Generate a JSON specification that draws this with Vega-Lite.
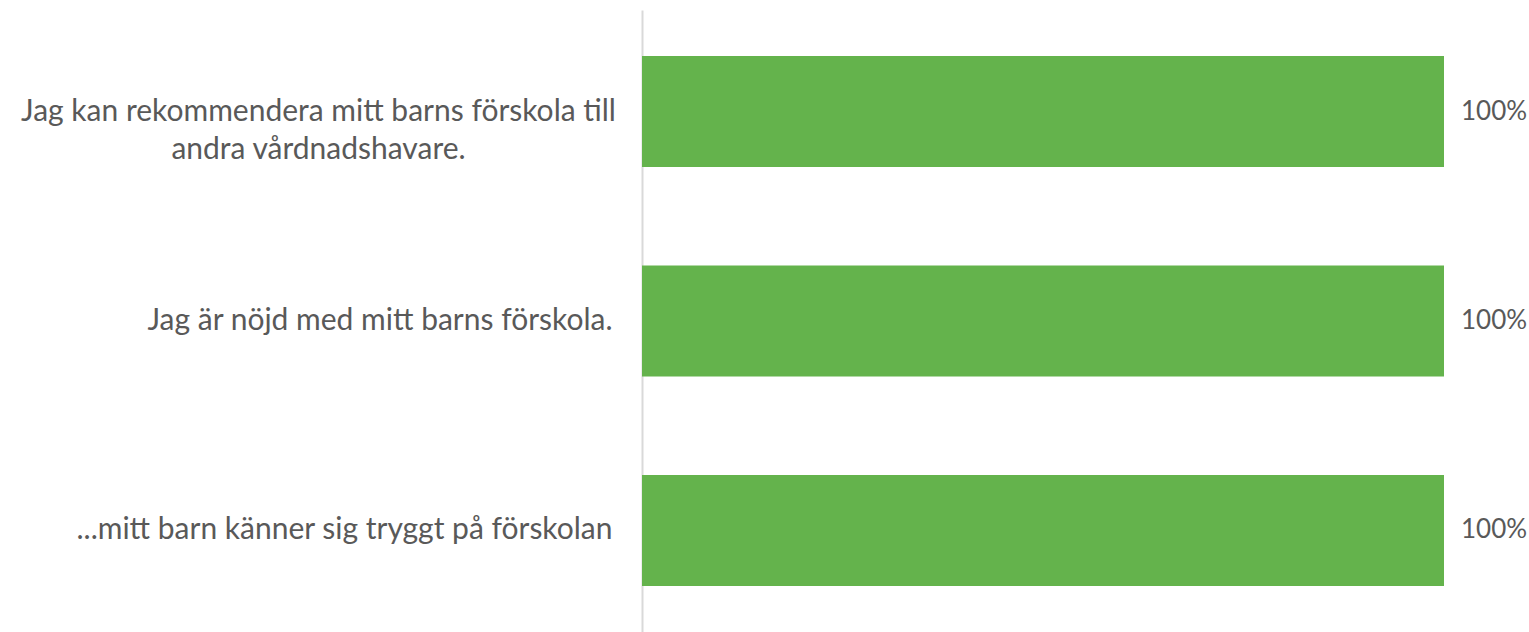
{
  "$schema": "https://vega.github.io/schema/vega-lite/v6.json",
  "autosize": "none",
  "width": 802,
  "height": 622,
  "padding": {"left": 642, "top": 10, "right": 85, "bottom": 0},
  "background": "white",
  "config": {"view": {"stroke": null}, "font": "Lato"},
  "data": {
    "values": [
      {"fraga": "Jag kan rekommendera mitt barns förskola till|andra vårdnadshavare.", "andel": 1.0},
      {"fraga": "Jag är nöjd med mitt barns förskola.", "andel": 1.0},
      {"fraga": "...mitt barn känner sig tryggt på förskolan", "andel": 1.0}
    ]
  },
  "encoding": {
    "y": {
      "field": "fraga",
      "type": "nominal",
      "sort": null,
      "scale": {"paddingInner": 0.47, "paddingOuter": 0.22},
      "axis": {
        "title": null,
        "ticks": false,
        "grid": false,
        "domainColor": "#d9d9d9",
        "domainWidth": 2,
        "labelColor": "#595959",
        "labelFont": "Lato",
        "labelFontSize": 30,
        "labelLineHeight": 38,
        "labelPadding": {"condition": {"test": "indexof(datum.value, '|') >= 0", "value": 324}, "value": 30},
        "labelLimit": 700,
        "labelAlign": {"condition": {"test": "indexof(datum.value, '|') >= 0", "value": "center"}, "value": "right"},
        "labelBaseline": "middle",
        "labelExpr": "split(datum.label, '|')"
      }
    },
    "x": {
      "field": "andel",
      "type": "quantitative",
      "scale": {"domain": [0, 1], "nice": false},
      "axis": null
    }
  },
  "layer": [
    {"mark": {"type": "bar", "color": "#64b34c"}},
    {
      "mark": {"type": "text", "align": "left", "baseline": "middle", "dx": 17, "fontSize": 26, "font": "Lato", "color": "#595959"},
      "encoding": {"text": {"field": "andel", "type": "quantitative", "format": ".0%"}}
    }
  ]
}
